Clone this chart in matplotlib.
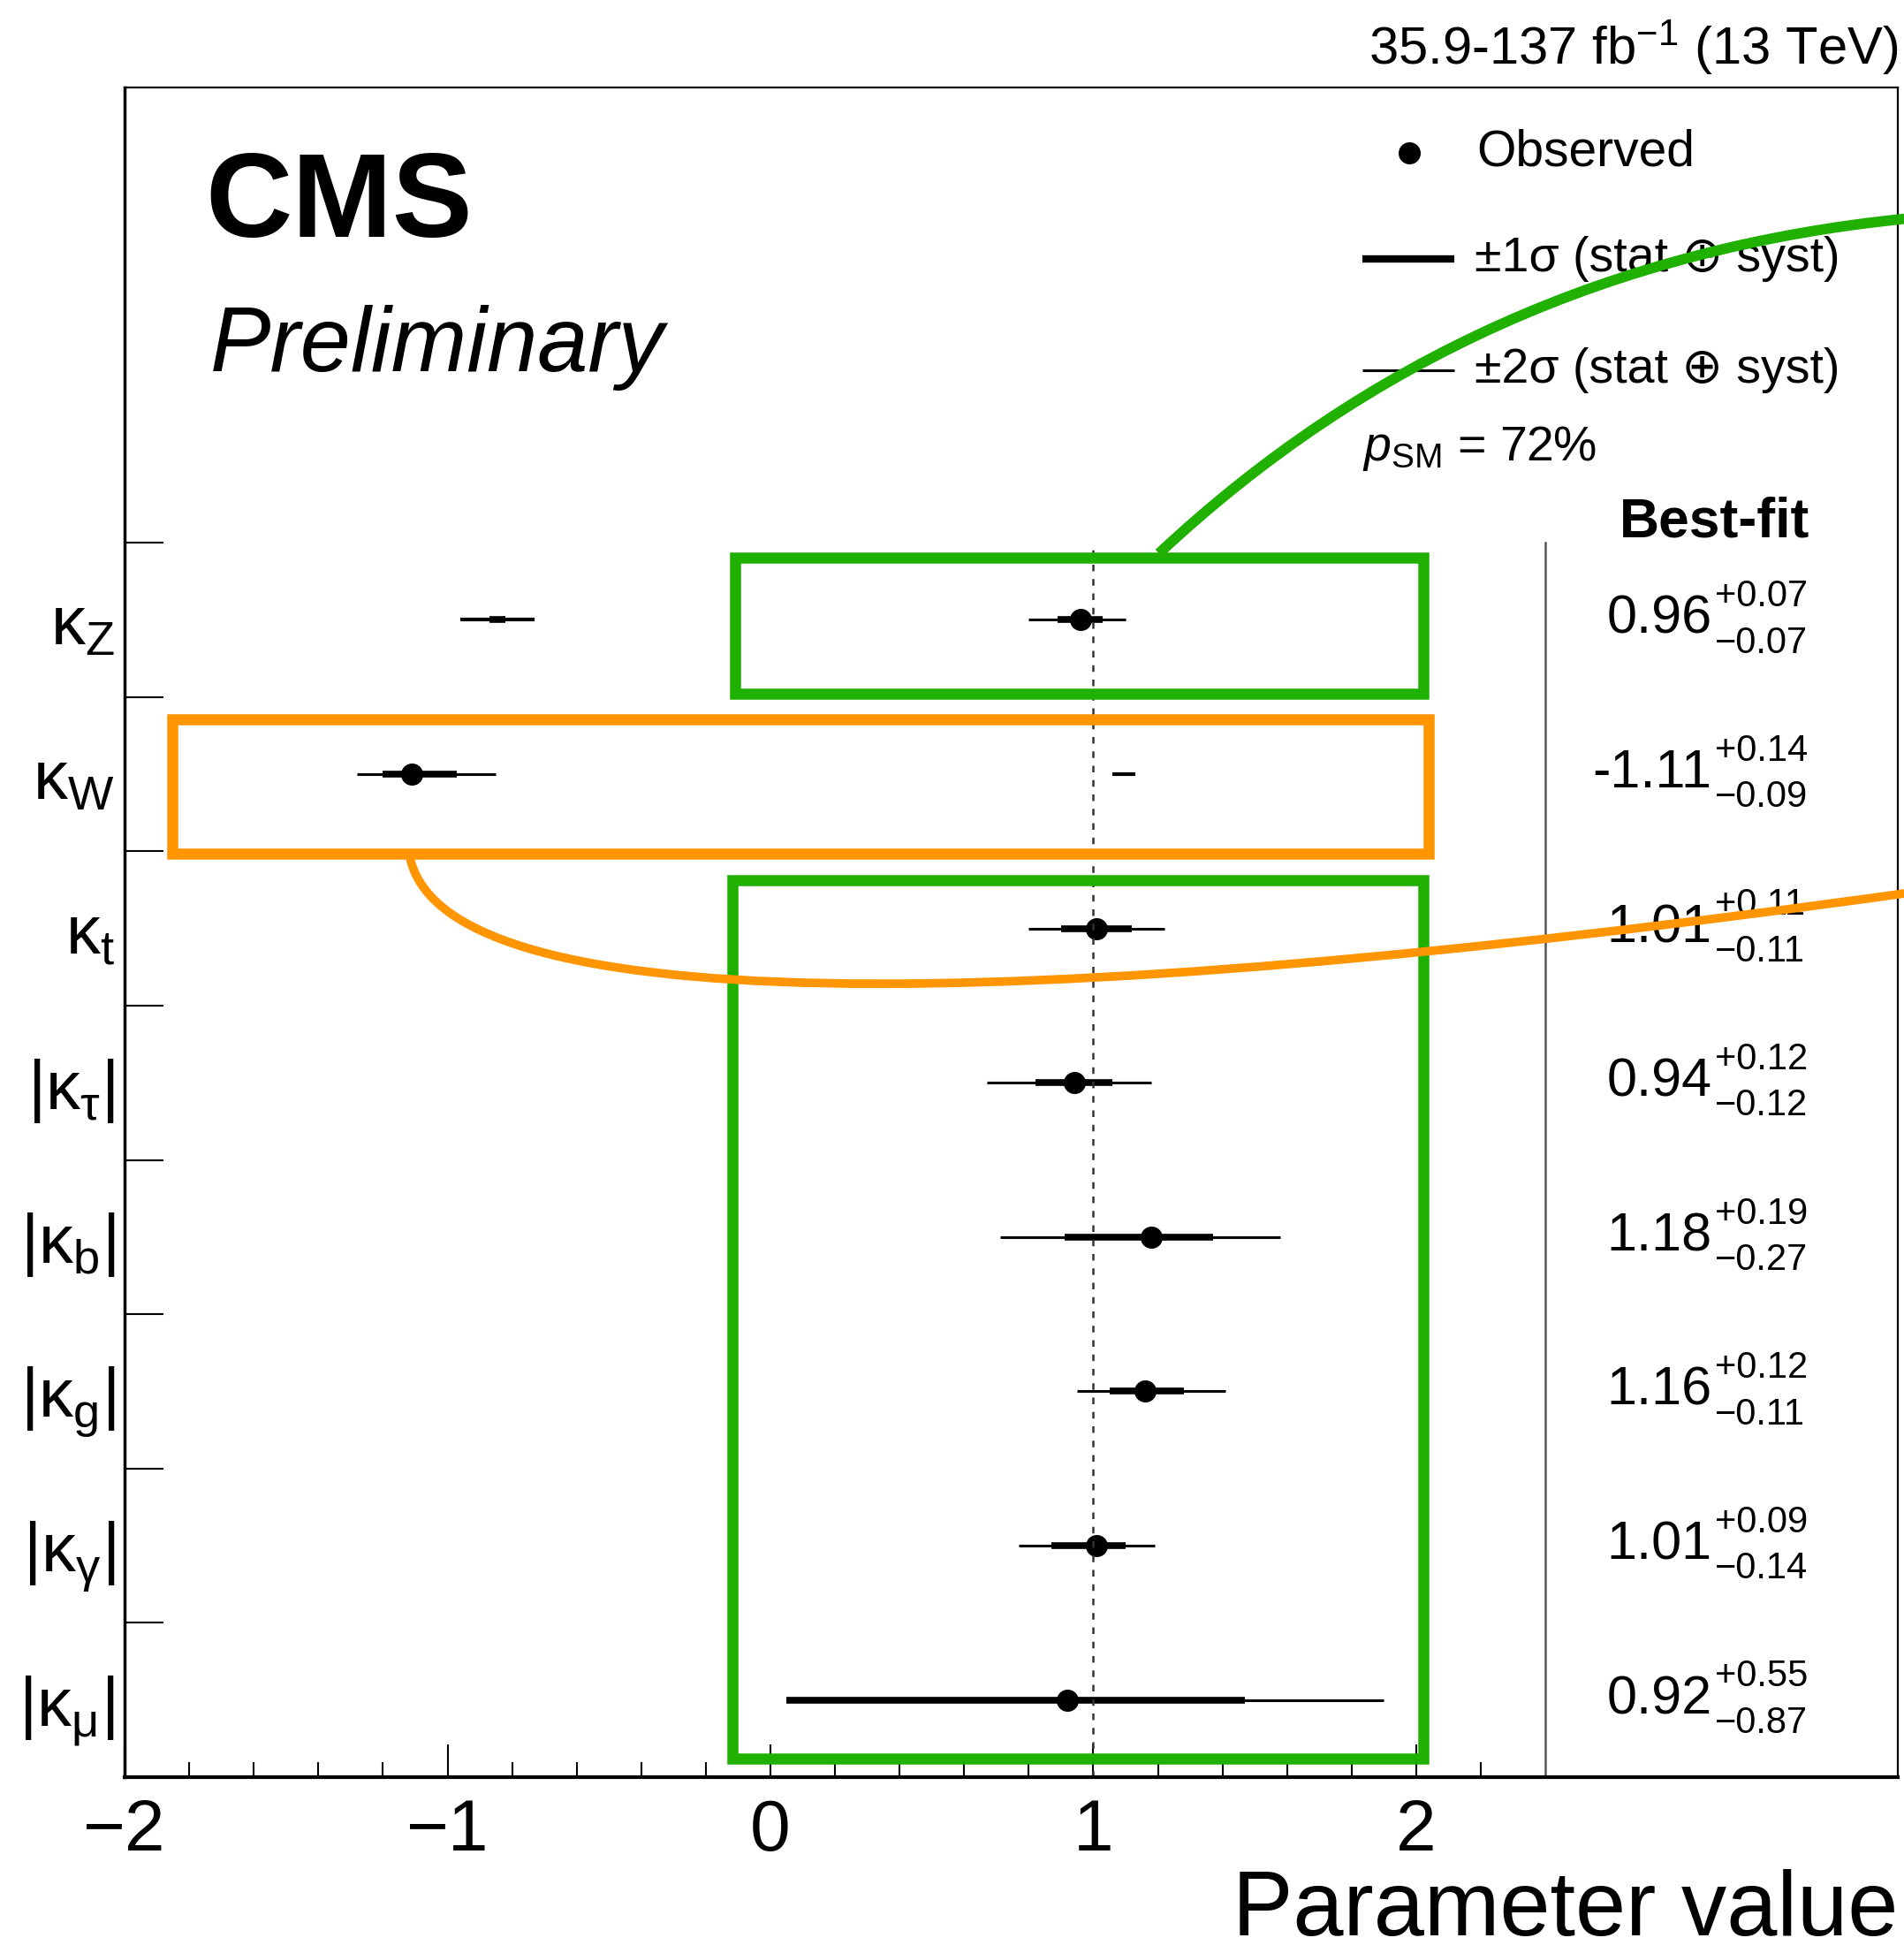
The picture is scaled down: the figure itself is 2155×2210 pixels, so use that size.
import numpy as np
import matplotlib
matplotlib.use('Agg')
import matplotlib.pyplot as plt
from matplotlib.patches import Rectangle, PathPatch
from matplotlib.path import Path

plt.rcParams['font.family'] = ['Liberation Sans', 'DejaVu Sans']
plt.rcParams['mathtext.fontset'] = 'custom'
plt.rcParams['mathtext.rm'] = 'Liberation Sans'
plt.rcParams['mathtext.it'] = 'Liberation Sans:italic'
plt.rcParams['mathtext.bf'] = 'Liberation Sans:bold'

# coupling modifiers, top to bottom
params = ['κ$_\\mathrm{Z}$', 'κ$_\\mathrm{W}$', 'κ$_\\mathrm{t}$', '|κ$_\\mathrm{τ}$|',
          '|κ$_\\mathrm{b}$|', '|κ$_\\mathrm{g}$|', '|κ$_\\mathrm{γ}$|', '|κ$_\\mathrm{μ}$|']
best = [0.96, -1.11, 1.01, 0.94, 1.18, 1.16, 1.01, 0.92]
errUp = [0.07, 0.14, 0.11, 0.12, 0.19, 0.12, 0.09, 0.55]
errDn = [0.07, 0.09, 0.11, 0.12, 0.27, 0.11, 0.14, 0.87]
# 2 sigma intervals
lo2 = [0.80, -1.28, 0.80, 0.67, 0.71, 0.95, 0.77, 0.05]
hi2 = [1.10, -0.85, 1.22, 1.18, 1.58, 1.41, 1.19, 1.90]
# secondary islands: row index, low, high, which band
extraRow = [0, 0, 1]
extraLo = [-0.96, -0.87, 1.06]
extraHi = [-0.73, -0.82, 1.13]
extraBand = ['2s', '1s', '2s']
pSM = 72

GREEN = '#1FB000'
ORANGE = '#FF9500'

fig = plt.figure(figsize=(21.55, 22.10), dpi=100)
ax = fig.add_axes([0.06543, 0.09005, 0.9313, 0.8652])
nRows = len(params)
ax.set_xlim(-2, 3.491)
ax.set_ylim(0, 10.95)
ypos = [nRows - 0.5 - i for i in range(nRows)]

thin, thick = 2.2, 5.5
for i in range(nRows):
    y = ypos[i]
    ax.plot([lo2[i], hi2[i]], [y, y], color='k', lw=thin, solid_capstyle='butt')
    ax.plot([best[i] - errDn[i], best[i] + errUp[i]], [y, y], color='k', lw=thick,
            solid_capstyle='butt')
    ax.plot(best[i], y, 'o', color='k', ms=17)

for r, lo, hi, band in zip(extraRow, extraLo, extraHi, extraBand):
    ax.plot([lo, hi], [ypos[r], ypos[r]], color='k', lw=thick if band == '1s' else 3,
            solid_capstyle='butt')

# SM line and column separator
ax.plot([1, 1], [0, nRows], color='#333333', lw=1.8, ls=(0, (3, 3.5)))
ax.plot([2.4, 2.4], [0, nRows], color='#555555', lw=1.8)

# best-fit column
ax.text(3.217, 8.13, 'Best-fit', ha='right', va='center', fontsize=45, fontweight='bold')
for i in range(nRows):
    y = ypos[i]
    ax.text(2.915, y, f'{best[i]:.2f}', ha='right', va='center', fontsize=44)
    ax.text(2.925, y + 0.15, f'+{errUp[i]:.2f}', ha='left', va='center', fontsize=30)
    ax.text(2.925, y - 0.15, f'\u2212{errDn[i]:.2f}', ha='left', va='center', fontsize=30)

# legend
ax.plot(1.979, 10.528, 'o', color='k', ms=17)
ax.text(2.187, 10.528, 'Observed', va='center', fontsize=41)
ax.plot([1.832, 2.118], [9.836, 9.836], color='k', lw=6, solid_capstyle='butt')
ax.text(2.18, 9.836, '±1σ (stat ⊕ syst)', va='center', fontsize=40)
ax.plot([1.832, 2.118], [9.119, 9.119], color='k', lw=thin, solid_capstyle='butt')
ax.text(2.18, 9.119, '±2σ (stat ⊕ syst)', va='center', fontsize=40)
ax.text(1.832, 8.61, '$p_{\\mathrm{SM}}$ = %d%%' % pSM, va='center', fontsize=40)

ax.text(-1.75, 9.98, 'CMS', fontsize=98, fontweight='bold', va='baseline')
ax.text(-1.736, 9.11, 'Preliminary', fontsize=74, fontstyle='italic', va='baseline')

# axes styling
ax.set_xticks([-2, -1, 0, 1, 2])
ax.set_xticks([v for v in np.round(np.arange(-1.8, 2.3, 0.2), 1) if v % 1 != 0], minor=True)
ax.tick_params(axis='x', which='major', direction='in', length=27, width=1.5, pad=17,
               labelsize=59, top=False)
ax.tick_params(axis='x', which='minor', direction='in', length=12, width=1.5, top=False)
ax.set_yticks(range(1, nRows + 1))
ax.set_yticks(ypos, minor=True)
ax.set_yticklabels(params, minor=True)
ax.tick_params(axis='y', which='major', direction='in', length=32, width=1.5,
               labelleft=False, right=False)
ax.tick_params(axis='y', which='minor', length=0, pad=8, labelsize=56)
ax.spines['left'].set_linewidth(2.5)
ax.spines['bottom'].set_linewidth(3)
ax.spines['top'].set_linewidth(1.6)
ax.spines['right'].set_linewidth(1.6)

fig.text(0.9968, 0.967, '35.9-137 fb$^{-1}$ (13 TeV)', ha='right', va='baseline', fontsize=43)
fig.text(0.9968, 0.009, 'Parameter value', ha='right', va='baseline', fontsize=74)

# highlight boxes and connecting curves drawn over the plot
boxes = [(-0.11, 7.02, 2.022, 7.90, GREEN),
         (-1.853, 5.983, 2.039, 6.853, ORANGE),
         (-0.117, 0.122, 2.023, 5.814, GREEN)]
for x0, y0, x1, y1, c in boxes:
    ax.add_patch(Rectangle((x0, y0), x1 - x0, y1 - y0, fill=False, ec=c, lw=9,
                           clip_on=False, zorder=10, joinstyle='miter'))

greenCurve = Path([(1.203, 7.93), (2.167, 9.82), (3.52, 10.10)],
                  [Path.MOVETO, Path.CURVE3, Path.CURVE3])
orangeCurve = Path([(-1.118, 5.98), (-1.033, 4.908), (0.702, 4.908), (3.52, 5.729)],
                   [Path.MOVETO, Path.CURVE4, Path.CURVE4, Path.CURVE4])
ax.add_patch(PathPatch(greenCurve, fill=False, ec=GREEN, lw=8.5, clip_on=False, zorder=10))
ax.add_patch(PathPatch(orangeCurve, fill=False, ec=ORANGE, lw=7, clip_on=False, zorder=10))

fig.savefig('out.png', dpi=100)
